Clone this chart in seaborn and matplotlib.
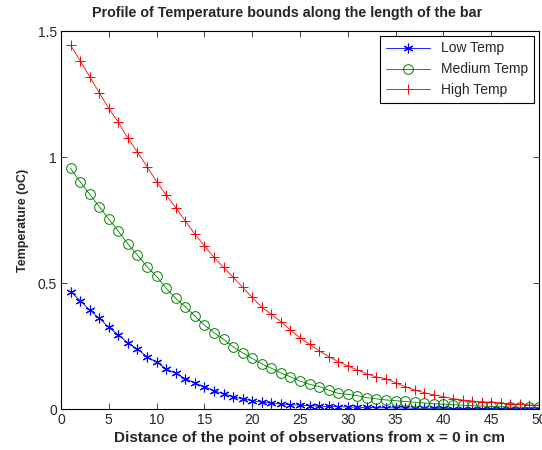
import numpy as np
import pandas as pd
import matplotlib
matplotlib.use("Agg")
import matplotlib.pyplot as plt
import seaborn as sns

# distance along the bar (cm)
x = list(range(1, 51))

low_temp = [0.466, 0.430, 0.393, 0.360, 0.324, 0.294, 0.263, 0.237, 0.208, 0.185,
            0.160, 0.141, 0.121, 0.102, 0.089, 0.073, 0.060, 0.049, 0.040, 0.033,
            0.027, 0.023, 0.020, 0.017, 0.015, 0.013, 0.011, 0.010, 0.009, 0.008,
            0.007, 0.006, 0.005, 0.005, 0.004, 0.004, 0.003, 0.003, 0.003, 0.003,
            0.002, 0.002, 0.002, 0.002, 0.002, 0.001, 0.001, 0.001, 0.001, 0.001]
medium_temp = [0.955, 0.902, 0.852, 0.803, 0.753, 0.706, 0.655, 0.611, 0.565, 0.526,
               0.479, 0.439, 0.406, 0.369, 0.333, 0.303, 0.277, 0.247, 0.223, 0.201,
               0.179, 0.162, 0.143, 0.128, 0.111, 0.098, 0.089, 0.075, 0.062, 0.058,
               0.053, 0.045, 0.040, 0.036, 0.033, 0.030, 0.027, 0.024, 0.021, 0.019,
               0.017, 0.015, 0.013, 0.012, 0.010, 0.009, 0.008, 0.007, 0.006, 0.006]
high_temp = [1.444, 1.382, 1.319, 1.255, 1.193, 1.138, 1.074, 1.019, 0.962, 0.902,
             0.849, 0.799, 0.747, 0.694, 0.647, 0.602, 0.562, 0.523, 0.483, 0.443,
             0.404, 0.376, 0.347, 0.313, 0.283, 0.257, 0.231, 0.208, 0.188, 0.171,
             0.155, 0.140, 0.127, 0.120, 0.104, 0.089, 0.075, 0.065, 0.056, 0.049,
             0.041, 0.036, 0.032, 0.028, 0.027, 0.024, 0.021, 0.019, 0.016, 0.015]

sns.set_style("white")
plt.rcParams['font.family'] = ['Liberation Sans', 'DejaVu Sans']

fig = plt.figure(figsize=(5.42, 4.5), dpi=100)
ax = fig.add_axes([0.1125, 0.0911, 0.882, 0.84])

asterisk = (6, 2, 0)
sns.lineplot(x=x, y=low_temp, ax=ax, color='blue', marker=asterisk, markersize=7,
             markeredgecolor='blue', markeredgewidth=0.8, linewidth=0.6, label='Low Temp')
sns.lineplot(x=x, y=medium_temp, ax=ax, color=(0, 0.5, 0), marker='o', markersize=7,
             markerfacecolor='none', markeredgecolor=(0, 0.5, 0), markeredgewidth=0.7,
             linewidth=0.6, label='Medium Temp')
sns.lineplot(x=x, y=high_temp, ax=ax, color='red', marker='+', markersize=7,
             markeredgecolor='red', markeredgewidth=0.7, linewidth=0.6, label='High Temp')

ax.set_xlim(0, 50)
ax.set_ylim(0, 1.5)
ax.set_xticks(range(0, 51, 5))
ax.set_yticks([0, 0.5, 1, 1.5])
ax.set_yticklabels(['0', '0.5', '1', '1.5'])
ax.tick_params(direction='in', length=4, width=0.6, top=True, right=True,
               left=True, bottom=True, labelsize=10, pad=3)
for s in ax.spines.values():
    s.set_color('black')
    s.set_linewidth(0.8)

ax.set_title('Profile of Temperature bounds along the length of the bar',
             fontsize=10.3, fontweight='bold', pad=10, x=0.473)
ax.set_xlabel('Distance of the point of observations from x = 0 in cm',
              fontsize=11, fontweight='bold', labelpad=3, x=0.519)
ax.set_ylabel('Temperature (oC)', fontsize=9, fontweight='bold', labelpad=6)

leg = ax.legend(loc='upper right', fontsize=10, frameon=True, fancybox=False,
                edgecolor='black', framealpha=1, borderaxespad=0.35,
                handlelength=3.2, labelspacing=0.5, borderpad=0.4)
leg.get_frame().set_linewidth(0.8)

fig.savefig('out.png', dpi=100)
